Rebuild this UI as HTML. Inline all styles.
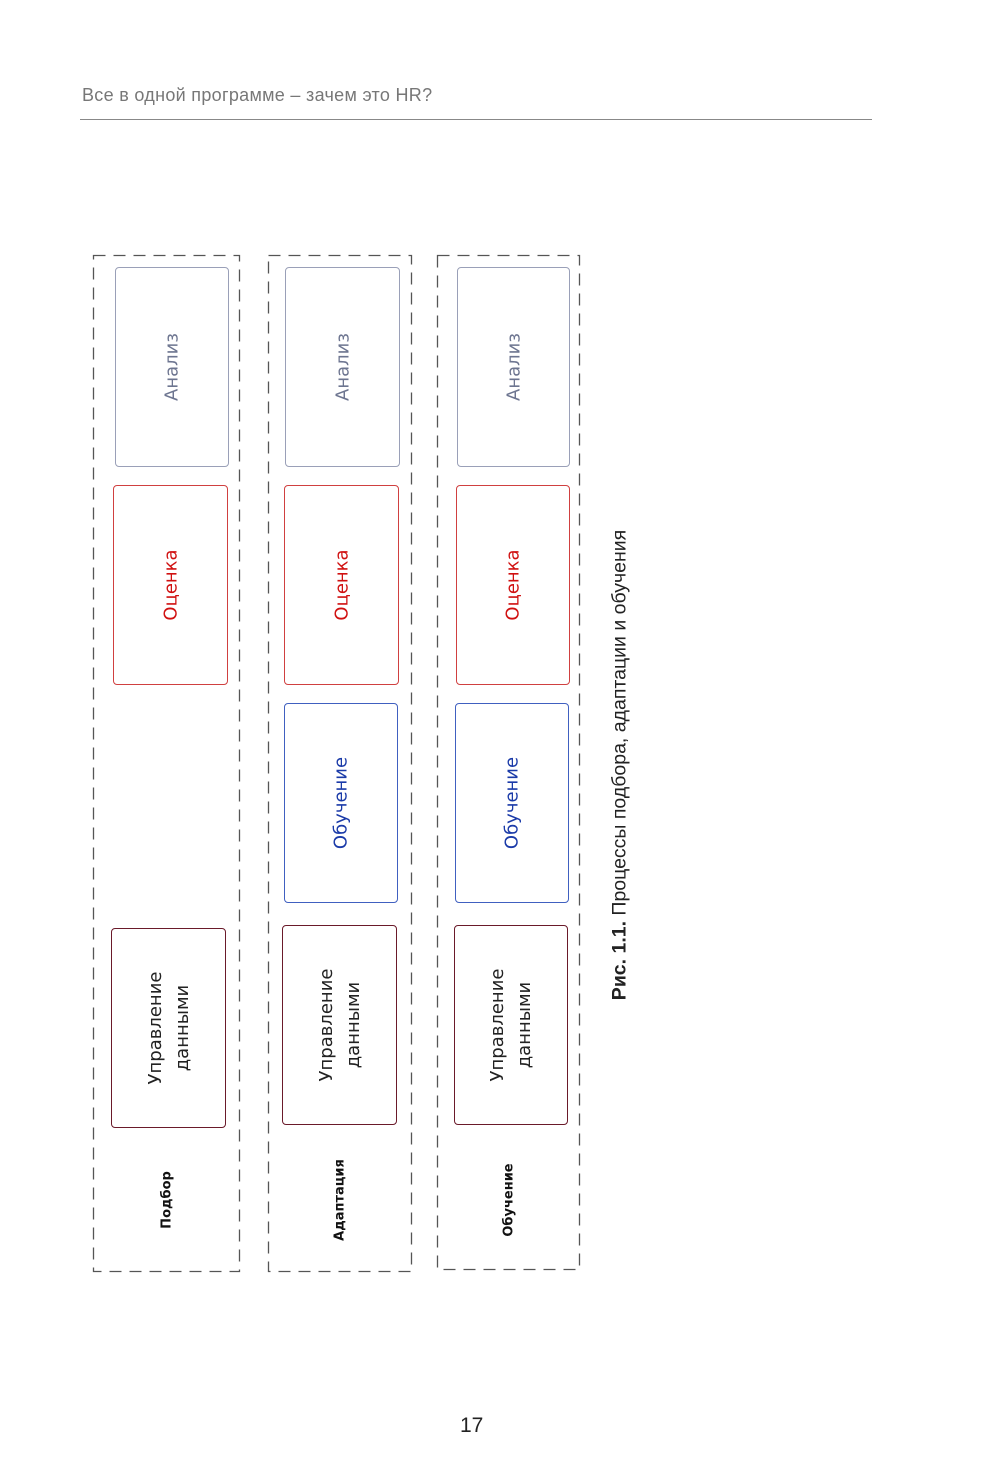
<!DOCTYPE html>
<html><head><meta charset="utf-8"><style>
body{margin:0;background:#fff;}
#p{position:relative;width:1000px;height:1479px;overflow:hidden;background:#fff;font-family:"Liberation Sans",sans-serif;}
.a{position:absolute;box-sizing:border-box;}
.bx{border:1.3px solid;border-radius:4px;}
.t{position:absolute;left:50%;top:50%;transform:translate(-50%,-50%) rotate(-90deg);white-space:nowrap;text-align:center;font-family:"DejaVu Sans","Liberation Sans",sans-serif;}
</style></head><body><div id="p">
<div class="a" style="left:82px;top:85px;font-size:18px;color:#777;letter-spacing:0.3px">Все в одной программе – зачем это HR?</div>
<div class="a" style="left:80px;top:119px;width:792px;height:1px;background:#888"></div>

<svg class="a" style="left:0;top:0" width="1000" height="1479">
<g fill="none" stroke="#555" stroke-width="1.3" stroke-dasharray="12 8">
<rect x="93.5" y="255.5" width="146" height="1016"/>
<rect x="268.5" y="255.5" width="143" height="1016"/>
<rect x="437.5" y="255.5" width="142" height="1014"/>
</g></svg>

<!-- col1 -->
<div class="a bx" style="left:115px;top:267px;width:114px;height:200px;border-color:#9aa0b8"><div class="t" style="font-size:18px;color:#6d7590">Анализ</div></div>
<div class="a bx" style="left:113px;top:485px;width:115px;height:200px;border-color:#d04040"><div class="t" style="font-size:18px;color:#d01010">Оценка</div></div>
<div class="a bx" style="left:111px;top:928px;width:115px;height:200px;border-color:#6a1a2a"><div class="t" style="font-size:18px;color:#222;line-height:27px">Управление<br>данными</div></div>
<div class="a" style="left:93px;top:1140px;width:147px;height:120px"><div class="t" style="font-size:13px;font-weight:bold;color:#111">Подбор</div></div>

<!-- col2 -->
<div class="a bx" style="left:285px;top:267px;width:115px;height:200px;border-color:#9aa0b8"><div class="t" style="font-size:18px;color:#6d7590">Анализ</div></div>
<div class="a bx" style="left:284px;top:485px;width:115px;height:200px;border-color:#d04040"><div class="t" style="font-size:18px;color:#d01010">Оценка</div></div>
<div class="a bx" style="left:284px;top:703px;width:114px;height:200px;border-color:#4060c0"><div class="t" style="font-size:18px;color:#1a3aa8">Обучение</div></div>
<div class="a bx" style="left:282px;top:925px;width:115px;height:200px;border-color:#6a1a2a"><div class="t" style="font-size:18px;color:#222;line-height:27px">Управление<br>данными</div></div>
<div class="a" style="left:268px;top:1140px;width:144px;height:120px"><div class="t" style="font-size:13px;font-weight:bold;color:#111">Адаптация</div></div>

<!-- col3 -->
<div class="a bx" style="left:457px;top:267px;width:113px;height:200px;border-color:#9aa0b8"><div class="t" style="font-size:18px;color:#6d7590">Анализ</div></div>
<div class="a bx" style="left:456px;top:485px;width:114px;height:200px;border-color:#d04040"><div class="t" style="font-size:18px;color:#d01010">Оценка</div></div>
<div class="a bx" style="left:455px;top:703px;width:114px;height:200px;border-color:#4060c0"><div class="t" style="font-size:18px;color:#1a3aa8">Обучение</div></div>
<div class="a bx" style="left:454px;top:925px;width:114px;height:200px;border-color:#6a1a2a"><div class="t" style="font-size:18px;color:#222;line-height:27px">Управление<br>данными</div></div>
<div class="a" style="left:437px;top:1140px;width:143px;height:120px"><div class="t" style="font-size:13px;font-weight:bold;color:#111">Обучение</div></div>

<div class="a" style="left:600px;top:500px;width:40px;height:530px"><div class="t" style="font-family:'Liberation Sans',sans-serif;font-size:19.5px;color:#222"><b>Рис. 1.1.</b> Процессы подбора, адаптации и обучения</div></div>

<div class="a" style="left:460px;top:1414px;font-size:21px;color:#222">17</div>
</div></body></html>
